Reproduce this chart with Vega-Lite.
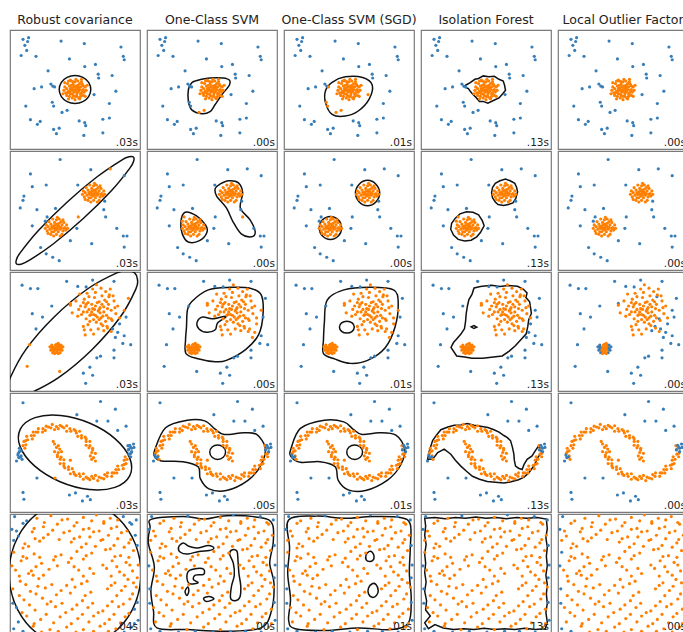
{
"$schema":"https://vega.github.io/schema/vega-lite/v6.json",
"padding":{"left":9,"top":12,"right":0,"bottom":0},
"background":"white",
"config":{"view":{"stroke":"#7a7a7a","strokeWidth":1.2},"axis":{"disable":true},"circle":{"size":10,"opacity":1},"line":{"color":"#111111","strokeWidth":1.5},"text":{"fontSize":10.5,"font":"DejaVu Sans","color":"#222222"},"title":{"fontSize":12.5,"fontWeight":"normal","font":"DejaVu Sans","color":"#222222","offset":4,"anchor":"middle"}},
"datasets":{
"p1":[{"x":-5.6,"y":5.9,"b":"12345"},{"x":-5.0,"y":6.1,"b":"12345"},{"x":-5.1,"y":5.65,"b":"12345"},{"x":-5.4,"y":5.2,"b":"12345"},{"x":-5.2,"y":4.6,"b":"12345"},{"x":-5.8,"y":4.0,"b":"12345"},{"x":-4.2,"y":3.9,"b":"12345"},{"x":-1.5,"y":5.7,"b":"12345"},{"x":1.0,"y":5.4,"b":"12345"},{"x":4.95,"y":5.0,"b":"12345"},{"x":5.2,"y":3.9,"b":"12345"},{"x":5.3,"y":3.5,"b":"12345"},{"x":-0.6,"y":3.6,"b":"12345"},{"x":1.05,"y":2.7,"b":"12345"},{"x":2.2,"y":2.95,"b":"12345"},{"x":-2.9,"y":2.2,"b":"12345"},{"x":2.5,"y":1.8,"b":"12345"},{"x":2.55,"y":1.35,"b":"12345"},{"x":4.0,"y":1.65,"b":"12345"},{"x":-2.6,"y":0.65,"b":"12345"},{"x":-2.4,"y":0.4,"b":"12345"},{"x":-2.2,"y":0.3,"b":"1245"},{"x":-4.4,"y":0.1,"b":"12345"},{"x":-3.6,"y":0.3,"b":"12345"},{"x":2.05,"y":-0.6,"b":"1245"},{"x":4.4,"y":-0.2,"b":"12345"},{"x":-5.3,"y":-1.95,"b":"12345"},{"x":-2.45,"y":-1.5,"b":"1245"},{"x":-2.3,"y":-1.95,"b":"1245"},{"x":-1.4,"y":-2.7,"b":"145"},{"x":-0.85,"y":-2.45,"b":"145"},{"x":3.7,"y":-1.65,"b":"12345"},{"x":-4.8,"y":-3.55,"b":"12345"},{"x":-4.05,"y":-4.1,"b":"12345"},{"x":-3.75,"y":-3.75,"b":"12345"},{"x":0.45,"y":-3.7,"b":"12345"},{"x":1.05,"y":-3.9,"b":"12345"},{"x":1.15,"y":-4.25,"b":"12345"},{"x":3.0,"y":-3.5,"b":"12345"},{"x":3.7,"y":-3.35,"b":"12345"},{"x":-2.3,"y":-4.7,"b":"12345"},{"x":-2.0,"y":-5.2,"b":"12345"},{"x":-1.7,"y":-4.55,"b":"12345"},{"x":0.95,"y":-5.4,"b":"12345"},{"x":3.0,"y":-5.1,"b":"12345"},
{"x":0,"y":0},{"x":0.3,"y":0.1},{"x":-0.3,"y":0.2},{"x":0.1,"y":0.4},{"x":-0.1,"y":-0.3},{"x":0.4,"y":-0.2},{"x":-0.4,"y":-0.1},{"x":0.2,"y":-0.5},{"x":-0.2,"y":0.6},{"x":0.6,"y":0.3},{"x":-0.6,"y":0.4},{"x":0.5,"y":0.7},{"x":-0.5,"y":-0.5},{"x":0.7,"y":-0.4},{"x":-0.7,"y":-0.2},{"x":0,"y":0.9},{"x":0,"y":-0.8},{"x":0.9,"y":0},{"x":-0.9,"y":0.1},{"x":0.8,"y":0.6},{"x":-0.8,"y":0.7},{"x":0.6,"y":-0.8},{"x":-0.6,"y":-0.8},{"x":0.3,"y":1},{"x":-0.3,"y":-1},{"x":1,"y":-0.3},{"x":-1,"y":-0.4},{"x":1.1,"y":0.3},{"x":-1.1,"y":0.3},{"x":0.4,"y":-1},{"x":-0.4,"y":1},{"x":0.2,"y":0.2},{"x":-0.2,"y":-0.1},{"x":0.1,"y":-0.2},{"x":0.5,"y":0},{"x":-0.5,"y":0.1},{"x":0.3,"y":0.5},{"x":-0.3,"y":-0.5},{"x":0.8,"y":-0.1},{"x":-0.1,"y":0.3},{"x":0.7,"y":0.9},{"x":-0.9,"y":-0.7},{"x":1.2,"y":-0.1},{"x":-1.2,"y":-0.1},{"x":0.1,"y":1.2},{"x":0,"y":-1.2},{"x":0.9,"y":-0.7},{"x":-0.7,"y":1},{"x":0.4,"y":0.3},{"x":-0.4,"y":0.5},{"x":0.2,"y":-0.8},{"x":-0.2,"y":0.9},{"x":0.6,"y":-0.5},{"x":-0.6,"y":-0.3},{"x":0.9,"y":0.4},{"x":-0.8,"y":-0.4},{"x":0.3,"y":-0.3},{"x":-0.2,"y":-0.7},{"x":0.5,"y":-1.1},{"x":-0.5,"y":1.1},{"x":1.3,"y":0.5},{"x":-1.3,"y":-0.5},{"x":1.1,"y":-0.8},{"x":-1.1,"y":0.8},{"x":0.7,"y":1.2},{"x":-0.7,"y":-1.1}],
"p2":[{"x":-1.6,"y":6,"b":"12345"},{"x":-4.8,"y":4.3,"b":"12345"},{"x":1.7,"y":4.8,"b":"12345"},{"x":3.8,"y":4.9,"b":"2345"},{"x":5.3,"y":4.1,"b":"12345"},{"x":-3.1,"y":3,"b":"12345"},{"x":-4.6,"y":2.8,"b":"12345"},{"x":0.3,"y":3,"b":"12345"},{"x":-5.5,"y":1.7,"b":"12345"},{"x":-5.6,"y":1.2,"b":"12345"},{"x":-5.9,"y":0.3,"b":"12345"},{"x":-4.1,"y":0.1,"b":"12345"},{"x":-2.1,"y":0.25,"b":"12345"},{"x":3.2,"y":1.1,"b":"12345"},{"x":3.1,"y":0.1,"b":"12345"},{"x":-3,"y":-0.75,"b":"135"},{"x":-3.2,"y":-1.25,"b":"135"},{"x":0.35,"y":-0.75,"b":"2345"},{"x":-4.6,"y":-1.8,"b":"12345"},{"x":0.2,"y":-2.1,"b":"12345"},{"x":5.2,"y":-3,"b":"12345"},{"x":5.6,"y":-3,"b":"12345"},{"x":-0.5,"y":-3.55,"b":"12345"},{"x":1.8,"y":-3.9,"b":"12345"},{"x":5.3,"y":-4.3,"b":"12345"},{"x":-3.1,"y":-5.1,"b":"12345"},{"x":-2.4,"y":-5.5,"b":"12345"},{"x":-3.7,"y":-4.35,"b":"12345"},{"x":-1.7,"y":-5.9,"b":"12345"},{"x":4.5,"y":-2.1,"b":"12345"},{"x":3.3,"y":-0.75,"b":"1345"},
{"x":2,"y":2},{"x":2.3,"y":2.1},{"x":1.7,"y":2.2},{"x":2.1,"y":2.4},{"x":1.9,"y":1.7},{"x":2.4,"y":1.8},{"x":1.6,"y":1.9},{"x":2.2,"y":1.5},{"x":1.8,"y":2.6},{"x":2.6,"y":2.3},{"x":1.4,"y":2.4},{"x":2.5,"y":2.7},{"x":1.5,"y":1.5},{"x":2.7,"y":1.6},{"x":1.3,"y":1.8},{"x":2,"y":2.9},{"x":2,"y":1.2},{"x":2.9,"y":2},{"x":1.1,"y":2.1},{"x":2.8,"y":2.6},{"x":1.2,"y":2.7},{"x":2.6,"y":1.2},{"x":1.4,"y":1.2},{"x":2.3,"y":3},{"x":1.7,"y":1},{"x":3,"y":1.7},{"x":1,"y":1.6},{"x":3.1,"y":2.3},{"x":0.9,"y":2.3},{"x":2.4,"y":1},{"x":1.6,"y":3},{"x":2.2,"y":2.2},{"x":1.8,"y":1.9},{"x":2.1,"y":1.8},{"x":2.5,"y":2},{"x":1.5,"y":2.1},{"x":2.3,"y":2.5},{"x":1.7,"y":1.5},{"x":2.8,"y":1.9},{"x":1.9,"y":2.3},{"x":2.7,"y":2.9},{"x":1.1,"y":1.3},{"x":3.2,"y":1.9},{"x":0.8,"y":1.9},{"x":2.1,"y":3.2},
{"x":-2,"y":-2},{"x":-1.7,"y":-1.9},{"x":-2.3,"y":-1.8},{"x":-1.9,"y":-1.6},{"x":-2.1,"y":-2.3},{"x":-1.6,"y":-2.2},{"x":-2.4,"y":-2.1},{"x":-1.8,"y":-2.5},{"x":-2.2,"y":-1.4},{"x":-1.4,"y":-1.7},{"x":-2.6,"y":-1.6},{"x":-1.5,"y":-1.3},{"x":-2.5,"y":-2.5},{"x":-1.3,"y":-2.4},{"x":-2.7,"y":-2.2},{"x":-2,"y":-1.1},{"x":-2,"y":-2.8},{"x":-1.1,"y":-2},{"x":-2.9,"y":-1.9},{"x":-1.2,"y":-1.4},{"x":-2.8,"y":-1.3},{"x":-1.4,"y":-2.8},{"x":-2.6,"y":-2.8},{"x":-1.7,"y":-1},{"x":-2.3,"y":-3},{"x":-1,"y":-2.3},{"x":-3,"y":-2.4},{"x":-0.9,"y":-1.7},{"x":-3.1,"y":-1.7},{"x":-1.6,"y":-3},{"x":-2.4,"y":-1},{"x":-1.8,"y":-1.8},{"x":-2.2,"y":-2.1},{"x":-1.9,"y":-2.2},{"x":-1.5,"y":-2},{"x":-2.5,"y":-1.9},{"x":-1.7,"y":-1.5},{"x":-2.3,"y":-2.5},{"x":-1.2,"y":-2.1},{"x":-2.1,"y":-1.7},{"x":-1.3,"y":-1.1},{"x":-2.9,"y":-2.7},{"x":-0.8,"y":-2.1},{"x":-3.2,"y":-2.1},{"x":-1.9,"y":-0.8}],
"p3":[{"x":-5.7,"y":5.45,"b":"12345"},{"x":-4.8,"y":5.05,"b":"12345"},{"x":-4,"y":5.05,"b":"12345"},{"x":-0.9,"y":5.9,"b":"12345"},{"x":0.3,"y":5.3,"b":"12345"},{"x":1.2,"y":5.25,"b":"12345"},{"x":1.9,"y":6.05,"b":"12345"},{"x":4.2,"y":5.9,"b":"12345"},{"x":-2.5,"y":3,"b":"12345"},{"x":-4.6,"y":2.1,"b":"12345"},{"x":-3.5,"y":1.7,"b":"12345"},{"x":-4.2,"y":0.3,"b":"12345"},{"x":-4.9,"y":-1.55,"b":"2345"},{"x":4.05,"y":0.3,"b":"15"},{"x":4.35,"y":-0.7,"b":"145"},{"x":5.3,"y":-0.5,"b":"12345"},{"x":5.15,"y":-1.4,"b":"12345"},{"x":6,"y":-1.55,"b":"12345"},{"x":5.3,"y":2.5,"b":"45"},{"x":5.5,"y":1.7,"b":"12345"},{"x":3.9,"y":1.5,"b":"5"},{"x":3.45,"y":0.6,"b":"5"},{"x":2.35,"y":-3.1,"b":"12345"},{"x":1.6,"y":-4.2,"b":"12345"},{"x":0.9,"y":-4.9,"b":"12345"},{"x":1.9,"y":-5.15,"b":"12345"},{"x":1.15,"y":-6.1,"b":"12345"},{"x":4.2,"y":-2.2,"b":"12345"},{"x":2.75,"y":-2.9,"b":"12345"},{"x":4.2,"y":-3.1,"b":"12345"},{"x":5.75,"y":3.9,"b":"2345"},{"x":3.65,"y":4.1,"b":"5"},{"x":-0.5,"y":3.3,"b":"5"},{"x":-5.15,"y":-4.1,"b":"2345"},{"x":-1.65,"y":-4.7,"b":"2345"},{"x":3.1,"y":0.1,"b":"5"},{"x":4.8,"y":0.9,"b":"145"},{"x":4.6,"y":-0.1,"b":"145"},
{"x":-2,"y":-2},{"x":-1.8,"y":-1.9},{"x":-2.2,"y":-1.9},{"x":-1.9,"y":-1.8},{"x":-2.1,"y":-2.2},{"x":-1.8,"y":-2.1},{"x":-2.2,"y":-2.1},{"x":-1.9,"y":-2.3},{"x":-2.1,"y":-1.6},{"x":-1.6,"y":-1.8},{"x":-2.4,"y":-1.8},{"x":-1.7,"y":-1.6},{"x":-2.3,"y":-2.3},{"x":-1.6,"y":-2.2},{"x":-2.4,"y":-2.1},{"x":-2,"y":-1.5},{"x":-2,"y":-2.5},{"x":-1.5,"y":-2,"b":"5"},{"x":-2.5,"y":-1.9,"b":"5"},{"x":-1.5,"y":-1.6,"b":"5"},{"x":-2.5,"y":-1.6,"b":"5"},{"x":-1.6,"y":-2.5,"b":"5"},{"x":-2.4,"y":-2.5,"b":"5"},{"x":-1.8,"y":-1.4},{"x":-2.2,"y":-2.6},{"x":-1.4,"y":-2.2,"b":"5"},{"x":-2.6,"y":-2.2,"b":"5"},{"x":-1.3,"y":-1.8,"b":"5"},{"x":-2.7,"y":-1.8,"b":"5"},{"x":-1.8,"y":-2.6},
{"x":2,"y":2},{"x":2.5,"y":2.4},{"x":1.5,"y":2.6},{"x":2.8,"y":1.6},{"x":1.2,"y":1.5},{"x":3.1,"y":2.9},{"x":1.8,"y":3.2},{"x":2.3,"y":1.1},{"x":0.9,"y":2.3},{"x":3.4,"y":1.9},{"x":2.6,"y":3.5},{"x":1.4,"y":0.8},{"x":3.6,"y":3.2},{"x":0.6,"y":3},{"x":2.1,"y":4},{"x":3,"y":0.7},{"x":1,"y":3.8},{"x":3.9,"y":2.5},{"x":1.7,"y":0.2},{"x":2.9,"y":4.2},{"x":0.3,"y":1.8},{"x":4.2,"y":3.6},{"x":1.9,"y":2.7},{"x":2.4,"y":1.7},{"x":1.1,"y":2.9},{"x":3.3,"y":1.2},{"x":2.7,"y":2.2},{"x":1.6,"y":1.9},{"x":2.2,"y":3},{"x":3.7,"y":4.3},{"x":0.4,"y":2.6},{"x":4,"y":1.3},{"x":1.3,"y":4.5},{"x":2.5,"y":0.3},{"x":3.2,"y":3.7},{"x":0.9,"y":0.6},{"x":4.4,"y":2.1},{"x":1.9,"y":5},{"x":2.8,"y":5.1},{"x":-0.3,"y":2.2},{"x":3.5,"y":0.4},{"x":1,"y":0.2},{"x":4.6,"y":3},{"x":2.2,"y":4.6},{"x":0.1,"y":3.6},{"x":3.8,"y":5},{"x":2,"y":1.4},{"x":2.7,"y":2.8},{"x":1.4,"y":3.4},{"x":3.1,"y":2.3},{"x":1.8,"y":2.3},{"x":2.4,"y":3.4},{"x":1.6,"y":1.2},{"x":3,"y":1.8},{"x":2.1,"y":2.6},{"x":0.7,"y":2},{"x":3.5,"y":2.7},{"x":2.6,"y":1.4},{"x":1.2,"y":3.2},{"x":2.9,"y":3.2},{"x":4.1,"y":4.2},{"x":1.5,"y":4.1},{"x":4.8,"y":1.6},{"x":2.3,"y":5.5},{"x":3.3,"y":4.7},{"x":-0.5,"y":3.1},{"x":1.1,"y":-0.4},{"x":3.9,"y":0},{"x":0.5,"y":4.4},{"x":4.3,"y":2.8},{"x":2,"y":-0.3},{"x":1.7,"y":2},{"x":2.6,"y":2.6},{"x":2.2,"y":1.9},{"x":1.3,"y":2.3},{"x":3.4,"y":3.5},{"x":2.8,"y":0.9},{"x":0.9,"y":3.4},{"x":3.6,"y":1.6}],
"p4":[{"x":2.2,"y":-1},{"x":1.8,"y":-0.8},{"x":2,"y":-0.6},{"x":1.65,"y":-0.4},{"x":2.2,"y":-0.1},{"x":1.8,"y":0},{"x":1.9,"y":0.3},{"x":1.9,"y":0.5},{"x":1.5,"y":0.55},{"x":1.6,"y":0.8},{"x":1.2,"y":0.85},{"x":1.6,"y":1.3},{"x":1.2,"y":1.3},{"x":1.2,"y":1.6},{"x":1.1,"y":1.8},{"x":0.7,"y":1.7},{"x":0.7,"y":2},{"x":0.3,"y":1.9},{"x":0.5,"y":2.5},{"x":0.15,"y":2.3},{"x":0.05,"y":2.55},{"x":-0.1,"y":2.7},{"x":-0.45,"y":2.5},{"x":-0.55,"y":2.8},{"x":-0.9,"y":2.5},{"x":-0.9,"y":3.15},{"x":-1.2,"y":2.9},{"x":-1.4,"y":3.05},{"x":-1.6,"y":3.2},{"x":-1.8,"y":2.8},{"x":-2,"y":3.05},{"x":-2.2,"y":2.7},{"x":-2.45,"y":3.3},{"x":-2.6,"y":2.9},{"x":-2.85,"y":3},{"x":-3.1,"y":3.1},{"x":-3.2,"y":2.6},{"x":-3.45,"y":2.8},{"x":-3.5,"y":2.4},{"x":-3.95,"y":2.8},{"x":-4,"y":2.4},{"x":-4.2,"y":2.4},{"x":-4.5,"y":2.4},{"x":-4.4,"y":2},{"x":-4.7,"y":2},{"x":-4.6,"y":1.6},{"x":-5.2,"y":1.9},{"x":-5.1,"y":1.5},{"x":-5.3,"y":1.4},{"x":-5.5,"y":1.3},{"x":-5.3,"y":0.9},{"x":-5.6,"y":0.8},{"x":-5.4,"y":0.5},{"x":-6,"y":0.5,"b":"1"},{"x":-5.8,"y":0.2,"b":"1"},{"x":-6,"y":0.1,"b":"1"},{"x":-6.1,"y":-0.1,"b":"1"},{"x":-5.8,"y":-0.4,"b":"1"},{"x":-6,"y":-0.6,"b":"1"},{"x":-5.7,"y":-0.8,"b":"1"},{"x":-6.3,"y":-1,"b":"12345"},
{"x":-2.2,"y":1},{"x":-1.8,"y":0.8},{"x":-2,"y":0.6},{"x":-1.65,"y":0.4},{"x":-2.2,"y":0.1},{"x":-1.8,"y":0},{"x":-1.9,"y":-0.3},{"x":-1.9,"y":-0.5},{"x":-1.5,"y":-0.55},{"x":-1.6,"y":-0.8},{"x":-1.2,"y":-0.85},{"x":-1.6,"y":-1.3},{"x":-1.2,"y":-1.3},{"x":-1.2,"y":-1.6},{"x":-1.1,"y":-1.8},{"x":-0.7,"y":-1.7},{"x":-0.7,"y":-2},{"x":-0.3,"y":-1.9},{"x":-0.5,"y":-2.5},{"x":-0.15,"y":-2.3},{"x":-0.05,"y":-2.55},{"x":0.1,"y":-2.7},{"x":0.45,"y":-2.5},{"x":0.55,"y":-2.8},{"x":0.9,"y":-2.5},{"x":0.9,"y":-3.15},{"x":1.2,"y":-2.9},{"x":1.4,"y":-3.05},{"x":1.6,"y":-3.2},{"x":1.8,"y":-2.8},{"x":2,"y":-3.05},{"x":2.2,"y":-2.7},{"x":2.45,"y":-3.3},{"x":2.6,"y":-2.9},{"x":2.85,"y":-3},{"x":3.1,"y":-3.1},{"x":3.2,"y":-2.6},{"x":3.45,"y":-2.8},{"x":3.5,"y":-2.4},{"x":3.95,"y":-2.8},{"x":4,"y":-2.4},{"x":4.2,"y":-2.4},{"x":4.5,"y":-2.4},{"x":4.4,"y":-2},{"x":4.7,"y":-2},{"x":4.6,"y":-1.6},{"x":5.2,"y":-1.9},{"x":5.1,"y":-1.5},{"x":5.3,"y":-1.4},{"x":5.5,"y":-1.3},{"x":5.3,"y":-0.9},{"x":5.6,"y":-0.8},{"x":5.4,"y":-0.5},{"x":6,"y":-0.5,"b":"1"},{"x":5.8,"y":-0.2,"b":"1"},{"x":6,"y":-0.1,"b":"1"},{"x":6.1,"y":0.1,"b":"12345"},{"x":5.8,"y":0.4,"b":"1"},{"x":6,"y":0.6,"b":"12345"},{"x":5.7,"y":0.8,"b":"1"},{"x":6.3,"y":1,"b":"12345"},
{"x":-5.6,"y":5.85,"b":"12345"},{"x":2.75,"y":6,"b":"12345"},{"x":4.35,"y":5.1,"b":"12345"},{"x":0.2,"y":4.45,"b":"12345"},{"x":2.35,"y":3.7,"b":"12345"},{"x":3.55,"y":3.7,"b":"12345"},{"x":4.6,"y":2.6,"b":"12345"},{"x":5.5,"y":3.1,"b":"12345"},{"x":5.9,"y":0.85,"b":"12345"},{"x":6.1,"y":0.5,"b":"12345"},{"x":5.75,"y":0.3,"b":"12345"},{"x":6.35,"y":0.6,"b":"12345"},{"x":-6.15,"y":-0.3,"b":"12345"},{"x":-5.85,"y":-0.5,"b":"12345"},{"x":-6.05,"y":-0.6,"b":"12345"},{"x":-2.15,"y":-3,"b":"2345"},{"x":-0.6,"y":-5,"b":"12345"},{"x":0.05,"y":-4.75,"b":"12345"},{"x":1.35,"y":-5.15,"b":"12345"},{"x":1.65,"y":-5.55,"b":"12345"},{"x":0.8,"y":-5.7,"b":"12345"},{"x":-5.6,"y":-4.7,"b":"12345"},{"x":-5.5,"y":-5.5,"b":"12345"},{"x":-4.1,"y":-3,"b":"12345"},{"x":-2.35,"y":1.3},{"x":-1.45,"y":0.1},{"x":-0.5,"y":-0.9}],
"p5":[{"x":-6.5,"y":6.7,"b":"12345"},{"x":-4.1,"y":6.5},{"x":-2.6,"y":6.8,"b":"234"},{"x":-0.8,"y":6.4},{"x":0.9,"y":6.6},{"x":2.3,"y":6.9,"b":"234"},{"x":3.8,"y":6.5},{"x":5.2,"y":6.7,"b":"1234"},{"x":6.6,"y":6.3,"b":"1234"},{"x":-5.6,"y":5.9,"b":"1"},{"x":-3.4,"y":5.5},{"x":-1.9,"y":5.8},{"x":-0.1,"y":5.6},{"x":1.5,"y":5.3},{"x":3.1,"y":5.9},{"x":4.5,"y":5.5},{"x":6.1,"y":5.8,"b":"1"},{"x":-6.8,"y":5.2,"b":"12345"},{"x":-6.1,"y":4.4,"b":"1"},{"x":-4.6,"y":4.9},{"x":-2.9,"y":4.6},{"x":-1.2,"y":4.8},{"x":0.5,"y":4.3},{"x":2,"y":4.9},{"x":3.6,"y":4.5},{"x":5,"y":4.8},{"x":6.5,"y":4.5,"b":"1"},{"x":-5.4,"y":3.5},{"x":-5,"y":3.2},{"x":-5.6,"y":3},{"x":-3.8,"y":3.8},{"x":-0.4,"y":3.7},{"x":1.2,"y":3.5},{"x":2.8,"y":3.9},{"x":4.2,"y":3.3},{"x":5.8,"y":3.6},{"x":-6.6,"y":2.5,"b":"5"},{"x":-4.4,"y":2.3},{"x":-1.5,"y":2.2},{"x":0.2,"y":2.6},{"x":1.8,"y":2.4},{"x":3.3,"y":2.8},{"x":4.9,"y":2.1},{"x":6.3,"y":2.7},{"x":-5.8,"y":1.5},{"x":-3.6,"y":1.2},{"x":-2.3,"y":1.6},{"x":-0.7,"y":1.3},{"x":0.9,"y":1.7},{"x":4,"y":1.5},{"x":5.5,"y":1.3},{"x":6.8,"y":1,"b":"2345"},{"x":-6.4,"y":0.4},{"x":-5,"y":0},{"x":-4.7,"y":0.3},{"x":-4.5,"y":-0.2},{"x":-2.8,"y":0.5},{"x":0.4,"y":0.4},{"x":2,"y":0},{"x":3.4,"y":0.6},{"x":4.8,"y":0.2},{"x":6.2,"y":0.3},{"x":-5.9,"y":-0.9},{"x":-3.9,"y":-0.6},{"x":-0.3,"y":-0.7},{"x":1.3,"y":-0.9},{"x":4.3,"y":-1.1},{"x":5.7,"y":-0.7},{"x":-6.7,"y":-1.8,"b":"2345"},{"x":-4.8,"y":-2.1},{"x":-3.2,"y":-1.7},{"x":-1.5,"y":-2},{"x":0,"y":-1.6},{"x":1.7,"y":-2.2},{"x":3.5,"y":-1.8},{"x":5,"y":-2},{"x":6.6,"y":-1.6},{"x":-5.5,"y":-3.1},{"x":-3.5,"y":-2.9},{"x":-2.6,"y":-3.3},{"x":0.8,"y":-3.2},{"x":4,"y":-3.3},{"x":5.9,"y":-3},{"x":-6.3,"y":-4,"b":"1"},{"x":-4.3,"y":-4.3},{"x":-2.1,"y":-3.9},{"x":-0.3,"y":-4.2},{"x":1.4,"y":-4},{"x":3,"y":-4.4},{"x":4.7,"y":-3.9},{"x":6.4,"y":-4.2,"b":"1"},{"x":-5.2,"y":-5},{"x":-3.7,"y":-5.4},{"x":-1.6,"y":-5.1},{"x":0.3,"y":-5.3},{"x":2,"y":-5},{"x":3.7,"y":-5.4},{"x":5.4,"y":-5.1},{"x":6.8,"y":-5.5,"b":"12345"},{"x":-6.6,"y":-6.5,"b":"12345"},{"x":-4.5,"y":-6.2},{"x":-2.7,"y":-6.6},{"x":-0.9,"y":-6.3},{"x":0.9,"y":-6.6},{"x":2.7,"y":-6.2},{"x":4.4,"y":-6.5},{"x":6.1,"y":-6.3,"b":"1"},
{"x":-5.2,"y":6.2,"b":"1"},{"x":-3.3,"y":6},{"x":-1.4,"y":6.3},{"x":0.2,"y":6},{"x":1.8,"y":6.2},{"x":3.1,"y":6.1},{"x":4.6,"y":6.3},{"x":5.9,"y":6,"b":"1"},{"x":-6.3,"y":5,"b":"1"},{"x":-4.4,"y":5.3},{"x":-2.4,"y":5.1},{"x":-0.6,"y":5},{"x":0.9,"y":5.2},{"x":2.6,"y":5},{"x":3.9,"y":5.3},{"x":5.6,"y":5},{"x":-6.6,"y":3.9,"b":"1"},{"x":-4.3,"y":4.1},{"x":-3.4,"y":4.2},{"x":-1.7,"y":4},{"x":-0.1,"y":4.1},{"x":1.6,"y":4.3},{"x":3,"y":4},{"x":4.6,"y":4.1},{"x":6,"y":4},{"x":0.7,"y":3.1},{"x":2.2,"y":3.2},{"x":3.8,"y":2.9},{"x":5.3,"y":3.1},{"x":6.7,"y":3.3,"b":"12345"},{"x":-5.6,"y":2},{"x":-5.2,"y":1.8},{"x":-3.8,"y":1.9},{"x":-2.1,"y":2},{"x":-0.4,"y":1.8},{"x":1.2,"y":2.1},{"x":4.3,"y":2},{"x":5.8,"y":1.9},{"x":-6.8,"y":0.9,"b":"2345"},{"x":-4.2,"y":0.8},{"x":-1.9,"y":0.9},{"x":-0.1,"y":0.8},{"x":1.6,"y":0.6},{"x":3,"y":1},{"x":4.5,"y":0.8},{"x":5.9,"y":1},{"x":-6,"y":-0.3},{"x":-3.4,"y":-0.2},{"x":0.9,"y":-0.3},{"x":3.9,"y":-0.3},{"x":5.3,"y":-0.2},{"x":6.7,"y":-0.5,"b":"234"},{"x":-5.3,"y":-1.3},{"x":-4,"y":-1.5},{"x":-2.5,"y":-1.3},{"x":-0.9,"y":-1.4},{"x":0.7,"y":-1.2},{"x":3.9,"y":-1.4},{"x":5.4,"y":-1.5},{"x":6.3,"y":-1.1},{"x":-6,"y":-2.6},{"x":-4.2,"y":-2.4},{"x":-2,"y":-2.5},{"x":-0.5,"y":-2.3},{"x":1.1,"y":-2.6},{"x":4.5,"y":-2.6},{"x":6.2,"y":-2.4},{"x":-6.7,"y":-3.5,"b":"12345"},{"x":-4.9,"y":-3.7},{"x":-3,"y":-3.6},{"x":-1.4,"y":-3.5},{"x":0.2,"y":-3.7},{"x":1.9,"y":-3.5},{"x":3.5,"y":-3.8},{"x":5.2,"y":-3.6},{"x":6.7,"y":-3.4,"b":"1234"},{"x":-5.7,"y":-4.6},{"x":-3.1,"y":-4.8},{"x":-1,"y":-4.6},{"x":0.8,"y":-4.8},{"x":2.5,"y":-4.6},{"x":4.2,"y":-4.8},{"x":5.8,"y":-4.7},{"x":-6.1,"y":-5.7,"b":"1"},{"x":-4.4,"y":-5.9},{"x":-2.3,"y":-5.8},{"x":-0.4,"y":-5.9},{"x":1.5,"y":-5.7},{"x":3.2,"y":-5.9},{"x":4.9,"y":-5.8},{"x":6.4,"y":-5.9,"b":"1"},{"x":-5.6,"y":-6.8,"b":"12345"},{"x":-3.6,"y":-6.9,"b":"234"},{"x":-1.8,"y":-6.8,"b":"234"},{"x":0.1,"y":-6.9,"b":"234"},{"x":2,"y":-6.8,"b":"234"},{"x":3.6,"y":-6.8,"b":"234"},{"x":5.3,"y":-6.9,"b":"1234"}],
"k11":[{"x":1.7,"y":0},{"x":1.47,"y":0.83},{"x":0.85,"y":1.43},{"x":0,"y":1.65},{"x":-0.85,"y":1.43},{"x":-1.47,"y":0.83},{"x":-1.7,"y":0},{"x":-1.47,"y":-0.83},{"x":-0.85,"y":-1.43},{"x":0,"y":-1.65},{"x":0.85,"y":-1.43},{"x":1.47,"y":-0.83}],
"k12":[{"x":-2.18,"y":0.8},{"x":-1.64,"y":1.05},{"x":-0.21,"y":1.35},{"x":1.64,"y":1.25},{"x":1.9,"y":0.6},{"x":1.07,"y":-0.6},{"x":0.32,"y":-1.8},{"x":-0.21,"y":-2.6},{"x":-1.1,"y":-2.85},{"x":-2.18,"y":-2.4},{"x":-2.54,"y":-1.4},{"x":-2.54,"y":0.0}],
"k13":[{"x":-1.82,"y":0.85},{"x":-0.41,"y":1.49},{"x":1.47,"y":1.41},{"x":2.5,"y":0.53},{"x":2.17,"y":-1.14},{"x":1.0,"y":-2.53},{"x":-0.41,"y":-3.13},{"x":-1.82,"y":-2.93},{"x":-2.53,"y":-1.54},{"x":-2.53,"y":-0.14}],
"k14":[{"x":-2.2,"y":0.5},{"x":-1.7,"y":0.8},{"x":-1.2,"y":1.2},{"x":-0.8,"y":1.3},{"x":-0.3,"y":1.6},{"x":0.3,"y":1.5},{"x":0.9,"y":1.55},{"x":1.4,"y":1.2},{"x":1.85,"y":1.0},{"x":2.0,"y":0.5},{"x":2.1,"y":-0.1},{"x":1.8,"y":-0.5},{"x":1.4,"y":-1.0},{"x":0.8,"y":-1.3},{"x":0.2,"y":-1.6},{"x":-0.3,"y":-1.4},{"x":-0.7,"y":-1.4},{"x":-1.1,"y":-0.9},{"x":-1.4,"y":-0.6},{"x":-1.7,"y":-0.2},{"x":-1.9,"y":0.1},{"x":-2.3,"y":0.3}],
"k21":[{"x":6.29,"y":6.29},{"x":5.84,"y":6.32},{"x":4.99,"y":5.91},{"x":2.35,"y":3.94},{"x":-0.92,"y":0.92},{"x":-3.94,"y":-2.35},{"x":-5.91,"y":-4.99},{"x":-6.32,"y":-5.84},{"x":-6.29,"y":-6.29},{"x":-5.84,"y":-6.32},{"x":-4.99,"y":-5.91},{"x":-2.35,"y":-3.94},{"x":0.92,"y":-0.92},{"x":3.94,"y":2.35},{"x":5.91,"y":4.99},{"x":6.32,"y":5.84}],
"k22":[{"x":-2.9,"y":-0.2,"g":1},{"x":-1.7,"y":-0.6,"g":1},{"x":-0.7,"y":-1.7,"g":1},{"x":-0.55,"y":-2.6,"g":1},{"x":-1.35,"y":-3.55,"g":1},{"x":-2.55,"y":-3.7,"g":1},{"x":-3.2,"y":-2.75,"g":1},{"x":-3.35,"y":-1.3,"g":1},{"x":0.85,"y":3.1,"g":2},{"x":1.8,"y":3.5,"g":2},{"x":2.85,"y":3.25,"g":2},{"x":3.3,"y":2.1,"g":2},{"x":3.05,"y":0.3,"g":2},{"x":4.1,"y":-1.1,"g":2},{"x":4.65,"y":-2.5,"g":2},{"x":4.25,"y":-3.1,"g":2},{"x":3.15,"y":-2.75,"g":2},{"x":2.25,"y":-1.3,"g":2},{"x":1.55,"y":0.3,"g":2},{"x":0.5,"y":1.7,"g":2},{"x":0.35,"y":2.6,"g":2}],
"k23":[{"x":3.3,"y":2.05,"g":1},{"x":2.9,"y":3.1,"g":1},{"x":2,"y":3.55,"g":1},{"x":1.1,"y":3.1,"g":1},{"x":0.7,"y":2.05,"g":1},{"x":1.1,"y":1.0,"g":1},{"x":2,"y":0.55,"g":1},{"x":2.9,"y":1.0,"g":1},{"x":-0.8,"y":-2.05,"g":2},{"x":-1.15,"y":-1.1,"g":2},{"x":-2,"y":-0.7,"g":2},{"x":-2.85,"y":-1.1,"g":2},{"x":-3.2,"y":-2.05,"g":2},{"x":-2.85,"y":-3.0,"g":2},{"x":-2,"y":-3.4,"g":2},{"x":-1.15,"y":-3.0,"g":2}],
"k24":[{"x":3.4,"y":2.2,"g":1},{"x":3.3,"y":2.7,"g":1},{"x":3.1,"y":3.2,"g":1},{"x":2.6,"y":3.5,"g":1},{"x":2.1,"y":3.7,"g":1},{"x":1.5,"y":3.5,"g":1},{"x":1.0,"y":3.2,"g":1},{"x":0.7,"y":2.7,"g":1},{"x":0.6,"y":2.1,"g":1},{"x":0.7,"y":1.5,"g":1},{"x":1.0,"y":1.0,"g":1},{"x":1.3,"y":0.7,"g":1},{"x":1.9,"y":0.6,"g":1},{"x":2.4,"y":0.7,"g":1},{"x":2.9,"y":0.9,"g":1},{"x":3.2,"y":1.4,"g":1},{"x":3.3,"y":1.8,"g":1},{"x":-0.2,"y":-1.8,"g":2},{"x":-0.4,"y":-1.2,"g":2},{"x":-0.8,"y":-0.5,"g":2},{"x":-1.4,"y":-0.2,"g":2},{"x":-2.1,"y":-0.15,"g":2},{"x":-2.8,"y":-0.4,"g":2},{"x":-3.3,"y":-0.9,"g":2},{"x":-3.7,"y":-1.5,"g":2},{"x":-3.8,"y":-2.2,"g":2},{"x":-3.5,"y":-2.9,"g":2},{"x":-3.0,"y":-3.4,"g":2},{"x":-2.3,"y":-3.6,"g":2},{"x":-1.6,"y":-3.5,"g":2},{"x":-1.0,"y":-3.1,"g":2},{"x":-0.6,"y":-2.6,"g":2},{"x":-0.4,"y":-2.2,"g":2}],
"k31":[{"x":6.42,"y":6.89},{"x":5.66,"y":7.14},{"x":4.51,"y":6.89},{"x":1.34,"y":5.0},{"x":-2.25,"y":1.71},{"x":-5.28,"y":-2.1},{"x":-6.95,"y":-5.39},{"x":-7.12,"y":-6.56},{"x":-6.82,"y":-7.29},{"x":-6.06,"y":-7.54},{"x":-4.91,"y":-7.29},{"x":-1.74,"y":-5.4},{"x":1.85,"y":-2.11},{"x":4.88,"y":1.7},{"x":6.55,"y":4.99},{"x":6.72,"y":6.16}],
"k32":[{"x":-2.2,"y":3.5,"g":1},{"x":-0.4,"y":4.9,"g":1},{"x":2,"y":5.2,"g":1},{"x":4.1,"y":5.1,"g":1},{"x":5.3,"y":4.3,"g":1},{"x":5.5,"y":2.1,"g":1},{"x":5.05,"y":-0.3,"g":1},{"x":3.65,"y":-2.1,"g":1},{"x":1.55,"y":-3.4,"g":1},{"x":0.35,"y":-3.55,"g":1},{"x":-1.5,"y":-3.2,"g":1},{"x":-2.8,"y":-2.6,"g":1},{"x":-2.85,"y":-1.0,"g":1},{"x":-2.75,"y":0.5,"g":1},{"x":-2.65,"y":2.5,"g":1},{"x":-1.6,"y":1.1,"g":2},{"x":-1.0,"y":1.7,"g":2},{"x":0.05,"y":1.5,"g":2},{"x":1.55,"y":1.8,"g":2},{"x":0.6,"y":1.0,"g":2},{"x":0.35,"y":0.2,"g":2},{"x":-0.55,"y":-0.1,"g":2},{"x":-1.4,"y":0.3,"g":2}],
"k33":[{"x":-2.35,"y":3.7,"g":1},{"x":-0.55,"y":4.9,"g":1},{"x":2.25,"y":5.2,"g":1},{"x":4.8,"y":4.9,"g":1},{"x":5.3,"y":3.3,"g":1},{"x":4.95,"y":0.5,"g":1},{"x":3.9,"y":-1.9,"g":1},{"x":2,"y":-3.4,"g":1},{"x":0.15,"y":-3.75,"g":1},{"x":-1.5,"y":-3.25,"g":1},{"x":-2.75,"y":-2.6,"g":1},{"x":-2.75,"y":-1.0,"g":1},{"x":-2.65,"y":1.1,"g":1},{"x":0.57,"y":0.52,"g":2},{"x":0.34,"y":1.02,"g":2},{"x":-0.23,"y":1.22,"g":2},{"x":-0.8,"y":1.02,"g":2},{"x":-1.03,"y":0.52,"g":2},{"x":-0.8,"y":0.02,"g":2},{"x":-0.23,"y":-0.18,"g":2},{"x":0.34,"y":0.02,"g":2}],
"k34":[{"x":-1.29,"y":5.12,"g":1},{"x":-0.6,"y":5.3,"g":1},{"x":0.58,"y":5.44,"g":1},{"x":1.5,"y":5.3,"g":1},{"x":2.4,"y":5.4,"g":1},{"x":3.39,"y":5.32,"g":1},{"x":4.0,"y":5.0,"g":1},{"x":4.42,"y":4.52,"g":1},{"x":4.3,"y":4.0,"g":1},{"x":4.7,"y":3.5,"g":1},{"x":4.89,"y":2.12,"g":1},{"x":4.6,"y":1.4,"g":1},{"x":4.5,"y":0.6,"g":1},{"x":4.33,"y":-0.28,"g":1},{"x":3.8,"y":-0.9,"g":1},{"x":3.16,"y":-1.68,"g":1},{"x":2.5,"y":-2.3,"g":1},{"x":1.75,"y":-2.88,"g":1},{"x":0.8,"y":-3.0,"g":1},{"x":-0.35,"y":-3.16,"g":1},{"x":-1.52,"y":-3.16,"g":1},{"x":-2.3,"y":-3.0,"g":1},{"x":-3.16,"y":-2.88,"g":1},{"x":-3.77,"y":-1.88,"g":1},{"x":-3.5,"y":-1.3,"g":1},{"x":-3.16,"y":-0.88,"g":1},{"x":-2.7,"y":-0.3,"g":1},{"x":-2.32,"y":0.32,"g":1},{"x":-2.2,"y":1.2,"g":1},{"x":-2.13,"y":2.12,"g":1},{"x":-2.0,"y":3.0,"g":1},{"x":-1.85,"y":3.72,"g":1},{"x":-1.5,"y":4.4,"g":1},{"x":-1.0,"y":0.5,"g":2},{"x":-1.3,"y":0.7,"g":2},{"x":-1.6,"y":0.55,"g":2},{"x":-1.3,"y":0.35,"g":2}],
"k41":[{"x":5.89,"y":-2.75},{"x":5.9,"y":-0.66},{"x":4.33,"y":1.61},{"x":1.61,"y":3.44},{"x":-1.55,"y":4.35},{"x":-4.3,"y":4.1},{"x":-5.89,"y":2.75},{"x":-5.9,"y":0.66},{"x":-4.33,"y":-1.61},{"x":-1.61,"y":-3.44},{"x":1.55,"y":-4.35},{"x":4.3,"y":-4.1}],
"k42":[{"x":-6.16,"y":0.32,"g":1},{"x":-5.0,"y":2.92,"g":1},{"x":-2.66,"y":3.8,"g":1},{"x":-0.79,"y":3.72,"g":1},{"x":0.37,"y":2.72,"g":1},{"x":1.31,"y":2.12,"g":1},{"x":3.41,"y":2.32,"g":1},{"x":4.81,"y":2.12,"g":1},{"x":5.74,"y":0.52,"g":1},{"x":5.27,"y":-1.48,"g":1},{"x":3.87,"y":-3.28,"g":1},{"x":1.54,"y":-4.48,"g":1},{"x":-0.33,"y":-4.28,"g":1},{"x":-1.26,"y":-3.08,"g":1},{"x":-1.49,"y":-1.68,"g":1},{"x":-3.13,"y":-1.08,"g":1},{"x":-5.46,"y":-1.0,"g":1},{"x":-6.16,"y":-0.48,"g":1},{"x":1.46,"y":0.04,"g":2},{"x":1.21,"y":0.64,"g":2},{"x":0.61,"y":0.89,"g":2},{"x":0.01,"y":0.64,"g":2},{"x":-0.24,"y":0.04,"g":2},{"x":0.01,"y":-0.56,"g":2},{"x":0.61,"y":-0.81,"g":2},{"x":1.21,"y":-0.56,"g":2}],
"k43":[{"x":-6.25,"y":0.44,"g":1},{"x":-5.23,"y":2.84,"g":1},{"x":-2.66,"y":3.8,"g":1},{"x":-0.56,"y":3.6,"g":1},{"x":0.47,"y":2.72,"g":1},{"x":1.41,"y":2.12,"g":1},{"x":3.27,"y":2.32,"g":1},{"x":5.05,"y":2.04,"g":1},{"x":5.98,"y":0.44,"g":1},{"x":5.52,"y":-1.56,"g":1},{"x":4.11,"y":-3.28,"g":1},{"x":1.78,"y":-4.48,"g":1},{"x":-0.09,"y":-4.4,"g":1},{"x":-1.16,"y":-3.28,"g":1},{"x":-1.49,"y":-1.68,"g":1},{"x":-3.12,"y":-1.08,"g":1},{"x":-5.23,"y":-1.16,"g":1},{"x":-6.25,"y":-0.48,"g":1},{"x":1.46,"y":0.04,"g":2},{"x":1.21,"y":0.64,"g":2},{"x":0.61,"y":0.89,"g":2},{"x":0.01,"y":0.64,"g":2},{"x":-0.24,"y":0.04,"g":2},{"x":0.01,"y":-0.56,"g":2},{"x":0.61,"y":-0.81,"g":2},{"x":1.21,"y":-0.56,"g":2}],
"k44":[{"x":-6.29,"y":-0.8},{"x":-6.1,"y":0.2},{"x":-5.75,"y":1.4},{"x":-5.3,"y":2.1},{"x":-4.86,"y":2.68},{"x":-4.1,"y":3.0},{"x":-3.43,"y":3.2},{"x":-2.7,"y":3.25},{"x":-2.0,"y":3.4},{"x":-1.3,"y":3.2},{"x":-0.57,"y":3.08},{"x":0.2,"y":2.95},{"x":0.86,"y":2.68},{"x":1.4,"y":2.4},{"x":1.93,"y":2.0},{"x":2.3,"y":1.75},{"x":2.64,"y":1.4},{"x":2.85,"y":0.6},{"x":3.0,"y":-0.2},{"x":3.05,"y":-0.9},{"x":3.18,"y":-1.6},{"x":3.5,"y":-1.85},{"x":3.89,"y":-2.0},{"x":4.1,"y":-1.4},{"x":4.43,"y":-0.8},{"x":4.96,"y":-0.4},{"x":5.3,"y":0.2},{"x":5.68,"y":0.8},{"x":6.0,"y":0.0},{"x":5.57,"y":-0.6},{"x":5.2,"y":-1.5},{"x":4.6,"y":-2.4},{"x":4.1,"y":-2.9},{"x":3.5,"y":-3.2},{"x":2.7,"y":-3.45},{"x":1.93,"y":-3.6},{"x":1.0,"y":-3.5},{"x":0.14,"y":-3.4},{"x":-0.7,"y":-3.15},{"x":-1.46,"y":-2.8},{"x":-2.1,"y":-2.2},{"x":-2.71,"y":-1.6},{"x":-3.3,"y":-0.9},{"x":-3.79,"y":-0.2},{"x":-4.5,"y":0.4},{"x":-5.2,"y":0.0},{"x":-5.75,"y":-0.8}],
"k51":[{"x":7.1,"y":0},{"x":6.15,"y":4.3},{"x":3.55,"y":7.45},{"x":0,"y":8.6},{"x":-3.55,"y":7.45},{"x":-6.15,"y":4.3},{"x":-7.1,"y":0},{"x":-6.15,"y":-4.3},{"x":-3.55,"y":-7.45},{"x":0,"y":-8.6},{"x":3.55,"y":-7.45},{"x":6.15,"y":-4.3}],
"k52":[{"x":-6.49,"y":6.4,"g":1},{"x":-3.12,"y":6.72,"g":1},{"x":-0.79,"y":6.4,"g":1},{"x":1.55,"y":6.8,"g":1},{"x":5.28,"y":6.56,"g":1},{"x":6.5,"y":5.8,"g":1},{"x":6.59,"y":3.6,"g":1},{"x":6.22,"y":1.2,"g":1},{"x":6.68,"y":-1.2,"g":1},{"x":6.4,"y":-4.4,"g":1},{"x":5.28,"y":-6.4,"g":1},{"x":1.55,"y":-6.8,"g":1},{"x":-2.66,"y":-6.6,"g":1},{"x":-5.93,"y":-6.4,"g":1},{"x":-6.3,"y":-4.4,"g":1},{"x":-6.58,"y":-2.0,"g":1},{"x":-6.21,"y":0.8,"g":1},{"x":-6.86,"y":3.6,"g":1},{"x":-6.67,"y":5.4,"g":1},{"x":-3.6,"y":3.1,"g":2},{"x":-3.1,"y":3.6,"g":2},{"x":-2.5,"y":3.2,"g":2},{"x":-1.6,"y":3.0,"g":2},{"x":-0.4,"y":3.3,"g":2},{"x":0.2,"y":3.0,"g":2},{"x":-0.3,"y":2.7,"g":2},{"x":-1.4,"y":2.6,"g":2},{"x":-2.6,"y":2.3,"g":2},{"x":-3.4,"y":2.5,"g":2},{"x":-2.5,"y":0.3,"g":3},{"x":-1.6,"y":0.6,"g":3},{"x":-0.9,"y":0.5,"g":3},{"x":-0.9,"y":-0.1,"g":3},{"x":-1.8,"y":-0.2,"g":3},{"x":-2.0,"y":-0.7,"g":3},{"x":-1.5,"y":-1.1,"g":3},{"x":-2.4,"y":-1.2,"g":3},{"x":-2.7,"y":-0.5,"g":3},{"x":2.2,"y":2.8,"g":4},{"x":2.7,"y":2.6,"g":4},{"x":2.8,"y":1.5,"g":4},{"x":2.9,"y":0.0,"g":4},{"x":3.1,"y":-1.5,"g":4},{"x":3.0,"y":-2.8,"g":4},{"x":2.5,"y":-3.2,"g":4},{"x":2.0,"y":-2.9,"g":4},{"x":2.1,"y":-1.5,"g":4},{"x":2.4,"y":-0.2,"g":4},{"x":2.3,"y":1.2,"g":4},{"x":1.9,"y":2.3,"g":4},{"x":-2.6,"y":-1.6,"g":5},{"x":-2.5,"y":-2.1,"g":5},{"x":-2.7,"y":-2.6,"g":5},{"x":-2.9,"y":-2.1,"g":5},{"x":0.2,"y":-3.0,"g":6},{"x":-0.3,"y":-2.7,"g":6},{"x":-0.9,"y":-2.9,"g":6},{"x":-0.6,"y":-3.3,"g":6}],
"k53":[{"x":-6.5,"y":6.3,"g":1},{"x":-3.5,"y":6.75,"g":1},{"x":-0.5,"y":6.5,"g":1},{"x":2.5,"y":6.7,"g":1},{"x":5.5,"y":6.6,"g":1},{"x":6.6,"y":5.8,"g":1},{"x":6.6,"y":3.0,"g":1},{"x":6.5,"y":0.0,"g":1},{"x":6.7,"y":-3.0,"g":1},{"x":6.4,"y":-5.8,"g":1},{"x":4.5,"y":-6.6,"g":1},{"x":1.0,"y":-6.4,"g":1},{"x":-2.5,"y":-6.7,"g":1},{"x":-5.8,"y":-6.5,"g":1},{"x":-6.5,"y":-5.5,"g":1},{"x":-6.3,"y":-3.0,"g":1},{"x":-6.6,"y":0.0,"g":1},{"x":-6.4,"y":3.0,"g":1},{"x":2.7,"y":2.0,"g":2},{"x":2.5,"y":2.5,"g":2},{"x":2.2,"y":2.6,"g":2},{"x":1.85,"y":2.2,"g":2},{"x":1.85,"y":1.6,"g":2},{"x":2.25,"y":1.4,"g":2},{"x":2.6,"y":1.6,"g":2},{"x":3.15,"y":-2.0,"g":3},{"x":2.9,"y":-1.3,"g":3},{"x":2.5,"y":-1.2,"g":3},{"x":2.1,"y":-1.7,"g":3},{"x":2.1,"y":-2.4,"g":3},{"x":2.5,"y":-2.8,"g":3},{"x":2.95,"y":-2.6,"g":3}],
"k54":[{"x":-6.6,"y":6.5},{"x":-5.5,"y":6.6},{"x":-4.4,"y":6.45},{"x":-3.3,"y":6.6},{"x":-2.2,"y":6.5},{"x":-1.1,"y":6.65},{"x":0,"y":6.5},{"x":1.1,"y":6.6},{"x":2.2,"y":6.45},{"x":3.3,"y":6.6},{"x":4.4,"y":6.5},{"x":5.5,"y":6.6},{"x":6.5,"y":6.4},{"x":6.6,"y":5.3},{"x":6.45,"y":4.2},{"x":6.6,"y":3.1},{"x":6.5,"y":2.0},{"x":6.6,"y":0.9},{"x":6.45,"y":-0.2},{"x":6.6,"y":-1.3},{"x":6.5,"y":-2.4},{"x":6.6,"y":-3.5},{"x":6.45,"y":-4.6},{"x":6.6,"y":-5.7},{"x":6.4,"y":-6.5},{"x":5.3,"y":-6.6},{"x":4.2,"y":-6.45},{"x":3.1,"y":-6.6},{"x":2.0,"y":-6.5},{"x":0.9,"y":-6.6},{"x":-0.2,"y":-6.45},{"x":-1.3,"y":-6.6},{"x":-2.4,"y":-6.5},{"x":-3.5,"y":-6.6},{"x":-4.6,"y":-6.4},{"x":-5.5,"y":-6.0},{"x":-6.2,"y":-6.5},{"x":-6.6,"y":-5.8},{"x":-6.0,"y":-5.0},{"x":-6.5,"y":-4.3},{"x":-6.4,"y":-3.2},{"x":-6.6,"y":-2.1},{"x":-6.45,"y":-1.0},{"x":-6.6,"y":0.1},{"x":-6.5,"y":1.2},{"x":-6.6,"y":2.3},{"x":-6.45,"y":3.4},{"x":-6.6,"y":4.5},{"x":-6.5,"y":5.6}]
},
"spacing":0,
"vconcat":[
{"spacing":7,"bounds":"flush","hconcat":[
{"width":130,"height":119,"title":"Robust covariance","layer":[
{"data":{"name":"k11"},"mark":{"type":"line","interpolate":"cardinal-closed","clip":true},"encoding":{"x":{"field":"x","type":"quantitative","scale":{"domain":[-7,7]}},"y":{"field":"y","type":"quantitative","scale":{"domain":[-7,7]}},"detail":{"field":"g","type":"nominal"},"order":{"value":null}}},
{"data":{"name":"p1"},"mark":{"type":"circle","clip":true},"encoding":{"x":{"field":"x","type":"quantitative","scale":{"domain":[-7,7]}},"y":{"field":"y","type":"quantitative","scale":{"domain":[-7,7]}},"color":{"condition":{"test":"indexof(datum.b||'','1')>=0","value":"#377eb8"},"value":"#ff7f00"}}},
{"data":{"values":[{"x":7,"y":-7,"s":".03s"}]},"mark":{"type":"text","align":"right","baseline":"bottom","dx":-2,"dy":-1},"encoding":{"x":{"field":"x","type":"quantitative","scale":{"domain":[-7,7]}},"y":{"field":"y","type":"quantitative","scale":{"domain":[-7,7]}},"text":{"field":"s"}}}]},
{"width":130,"height":119,"title":"One-Class SVM","layer":[
{"data":{"name":"k12"},"mark":{"type":"line","interpolate":"cardinal-closed","clip":true},"encoding":{"x":{"field":"x","type":"quantitative","scale":{"domain":[-7,7]}},"y":{"field":"y","type":"quantitative","scale":{"domain":[-7,7]}},"detail":{"field":"g","type":"nominal"},"order":{"value":null}}},
{"data":{"name":"p1"},"mark":{"type":"circle","clip":true},"encoding":{"x":{"field":"x","type":"quantitative","scale":{"domain":[-7,7]}},"y":{"field":"y","type":"quantitative","scale":{"domain":[-7,7]}},"color":{"condition":{"test":"indexof(datum.b||'','2')>=0","value":"#377eb8"},"value":"#ff7f00"}}},
{"data":{"values":[{"x":7,"y":-7,"s":".00s"}]},"mark":{"type":"text","align":"right","baseline":"bottom","dx":-2,"dy":-1},"encoding":{"x":{"field":"x","type":"quantitative","scale":{"domain":[-7,7]}},"y":{"field":"y","type":"quantitative","scale":{"domain":[-7,7]}},"text":{"field":"s"}}}]},
{"width":130,"height":119,"title":"One-Class SVM (SGD)","layer":[
{"data":{"name":"k13"},"mark":{"type":"line","interpolate":"cardinal-closed","clip":true},"encoding":{"x":{"field":"x","type":"quantitative","scale":{"domain":[-7,7]}},"y":{"field":"y","type":"quantitative","scale":{"domain":[-7,7]}},"detail":{"field":"g","type":"nominal"},"order":{"value":null}}},
{"data":{"name":"p1"},"mark":{"type":"circle","clip":true},"encoding":{"x":{"field":"x","type":"quantitative","scale":{"domain":[-7,7]}},"y":{"field":"y","type":"quantitative","scale":{"domain":[-7,7]}},"color":{"condition":{"test":"indexof(datum.b||'','3')>=0","value":"#377eb8"},"value":"#ff7f00"}}},
{"data":{"values":[{"x":7,"y":-7,"s":".01s"}]},"mark":{"type":"text","align":"right","baseline":"bottom","dx":-2,"dy":-1},"encoding":{"x":{"field":"x","type":"quantitative","scale":{"domain":[-7,7]}},"y":{"field":"y","type":"quantitative","scale":{"domain":[-7,7]}},"text":{"field":"s"}}}]},
{"width":130,"height":119,"title":"Isolation Forest","layer":[
{"data":{"name":"k14"},"mark":{"type":"line","interpolate":"linear-closed","clip":true},"encoding":{"x":{"field":"x","type":"quantitative","scale":{"domain":[-7,7]}},"y":{"field":"y","type":"quantitative","scale":{"domain":[-7,7]}},"detail":{"field":"g","type":"nominal"},"order":{"value":null}}},
{"data":{"name":"p1"},"mark":{"type":"circle","clip":true},"encoding":{"x":{"field":"x","type":"quantitative","scale":{"domain":[-7,7]}},"y":{"field":"y","type":"quantitative","scale":{"domain":[-7,7]}},"color":{"condition":{"test":"indexof(datum.b||'','4')>=0","value":"#377eb8"},"value":"#ff7f00"}}},
{"data":{"values":[{"x":7,"y":-7,"s":".13s"}]},"mark":{"type":"text","align":"right","baseline":"bottom","dx":-2,"dy":-1},"encoding":{"x":{"field":"x","type":"quantitative","scale":{"domain":[-7,7]}},"y":{"field":"y","type":"quantitative","scale":{"domain":[-7,7]}},"text":{"field":"s"}}}]},
{"width":130,"height":119,"title":"Local Outlier Factor","layer":[
{"data":{"name":"p1"},"mark":{"type":"circle","clip":true},"encoding":{"x":{"field":"x","type":"quantitative","scale":{"domain":[-7,7]}},"y":{"field":"y","type":"quantitative","scale":{"domain":[-7,7]}},"color":{"condition":{"test":"indexof(datum.b||'','5')>=0","value":"#377eb8"},"value":"#ff7f00"}}},
{"data":{"values":[{"x":7,"y":-7,"s":".00s"}]},"mark":{"type":"text","align":"right","baseline":"bottom","dx":-2,"dy":-1},"encoding":{"x":{"field":"x","type":"quantitative","scale":{"domain":[-7,7]}},"y":{"field":"y","type":"quantitative","scale":{"domain":[-7,7]}},"text":{"field":"s"}}}]}
]},
{"spacing":7,"bounds":"flush","hconcat":[
{"width":130,"height":119,"layer":[
{"data":{"name":"k21"},"mark":{"type":"line","interpolate":"cardinal-closed","clip":true},"encoding":{"x":{"field":"x","type":"quantitative","scale":{"domain":[-7,7]}},"y":{"field":"y","type":"quantitative","scale":{"domain":[-7,7]}},"detail":{"field":"g","type":"nominal"},"order":{"value":null}}},
{"data":{"name":"p2"},"mark":{"type":"circle","clip":true},"encoding":{"x":{"field":"x","type":"quantitative","scale":{"domain":[-7,7]}},"y":{"field":"y","type":"quantitative","scale":{"domain":[-7,7]}},"color":{"condition":{"test":"indexof(datum.b||'','1')>=0","value":"#377eb8"},"value":"#ff7f00"}}},
{"data":{"values":[{"x":7,"y":-7,"s":".03s"}]},"mark":{"type":"text","align":"right","baseline":"bottom","dx":-2,"dy":-1},"encoding":{"x":{"field":"x","type":"quantitative","scale":{"domain":[-7,7]}},"y":{"field":"y","type":"quantitative","scale":{"domain":[-7,7]}},"text":{"field":"s"}}}]},
{"width":130,"height":119,"layer":[
{"data":{"name":"k22"},"mark":{"type":"line","interpolate":"cardinal-closed","clip":true},"encoding":{"x":{"field":"x","type":"quantitative","scale":{"domain":[-7,7]}},"y":{"field":"y","type":"quantitative","scale":{"domain":[-7,7]}},"detail":{"field":"g","type":"nominal"},"order":{"value":null}}},
{"data":{"name":"p2"},"mark":{"type":"circle","clip":true},"encoding":{"x":{"field":"x","type":"quantitative","scale":{"domain":[-7,7]}},"y":{"field":"y","type":"quantitative","scale":{"domain":[-7,7]}},"color":{"condition":{"test":"indexof(datum.b||'','2')>=0","value":"#377eb8"},"value":"#ff7f00"}}},
{"data":{"values":[{"x":7,"y":-7,"s":".00s"}]},"mark":{"type":"text","align":"right","baseline":"bottom","dx":-2,"dy":-1},"encoding":{"x":{"field":"x","type":"quantitative","scale":{"domain":[-7,7]}},"y":{"field":"y","type":"quantitative","scale":{"domain":[-7,7]}},"text":{"field":"s"}}}]},
{"width":130,"height":119,"layer":[
{"data":{"name":"k23"},"mark":{"type":"line","interpolate":"cardinal-closed","clip":true},"encoding":{"x":{"field":"x","type":"quantitative","scale":{"domain":[-7,7]}},"y":{"field":"y","type":"quantitative","scale":{"domain":[-7,7]}},"detail":{"field":"g","type":"nominal"},"order":{"value":null}}},
{"data":{"name":"p2"},"mark":{"type":"circle","clip":true},"encoding":{"x":{"field":"x","type":"quantitative","scale":{"domain":[-7,7]}},"y":{"field":"y","type":"quantitative","scale":{"domain":[-7,7]}},"color":{"condition":{"test":"indexof(datum.b||'','3')>=0","value":"#377eb8"},"value":"#ff7f00"}}},
{"data":{"values":[{"x":7,"y":-7,"s":".00s"}]},"mark":{"type":"text","align":"right","baseline":"bottom","dx":-2,"dy":-1},"encoding":{"x":{"field":"x","type":"quantitative","scale":{"domain":[-7,7]}},"y":{"field":"y","type":"quantitative","scale":{"domain":[-7,7]}},"text":{"field":"s"}}}]},
{"width":130,"height":119,"layer":[
{"data":{"name":"k24"},"mark":{"type":"line","interpolate":"linear-closed","clip":true},"encoding":{"x":{"field":"x","type":"quantitative","scale":{"domain":[-7,7]}},"y":{"field":"y","type":"quantitative","scale":{"domain":[-7,7]}},"detail":{"field":"g","type":"nominal"},"order":{"value":null}}},
{"data":{"name":"p2"},"mark":{"type":"circle","clip":true},"encoding":{"x":{"field":"x","type":"quantitative","scale":{"domain":[-7,7]}},"y":{"field":"y","type":"quantitative","scale":{"domain":[-7,7]}},"color":{"condition":{"test":"indexof(datum.b||'','4')>=0","value":"#377eb8"},"value":"#ff7f00"}}},
{"data":{"values":[{"x":7,"y":-7,"s":".13s"}]},"mark":{"type":"text","align":"right","baseline":"bottom","dx":-2,"dy":-1},"encoding":{"x":{"field":"x","type":"quantitative","scale":{"domain":[-7,7]}},"y":{"field":"y","type":"quantitative","scale":{"domain":[-7,7]}},"text":{"field":"s"}}}]},
{"width":130,"height":119,"layer":[
{"data":{"name":"p2"},"mark":{"type":"circle","clip":true},"encoding":{"x":{"field":"x","type":"quantitative","scale":{"domain":[-7,7]}},"y":{"field":"y","type":"quantitative","scale":{"domain":[-7,7]}},"color":{"condition":{"test":"indexof(datum.b||'','5')>=0","value":"#377eb8"},"value":"#ff7f00"}}},
{"data":{"values":[{"x":7,"y":-7,"s":".00s"}]},"mark":{"type":"text","align":"right","baseline":"bottom","dx":-2,"dy":-1},"encoding":{"x":{"field":"x","type":"quantitative","scale":{"domain":[-7,7]}},"y":{"field":"y","type":"quantitative","scale":{"domain":[-7,7]}},"text":{"field":"s"}}}]}
]},
{"spacing":7,"bounds":"flush","hconcat":[
{"width":130,"height":119,"layer":[
{"data":{"name":"k31"},"mark":{"type":"line","interpolate":"cardinal-closed","clip":true},"encoding":{"x":{"field":"x","type":"quantitative","scale":{"domain":[-7,7]}},"y":{"field":"y","type":"quantitative","scale":{"domain":[-7,7]}},"detail":{"field":"g","type":"nominal"},"order":{"value":null}}},
{"data":{"name":"p3"},"mark":{"type":"circle","clip":true},"encoding":{"x":{"field":"x","type":"quantitative","scale":{"domain":[-7,7]}},"y":{"field":"y","type":"quantitative","scale":{"domain":[-7,7]}},"color":{"condition":{"test":"indexof(datum.b||'','1')>=0","value":"#377eb8"},"value":"#ff7f00"}}},
{"data":{"values":[{"x":7,"y":-7,"s":".03s"}]},"mark":{"type":"text","align":"right","baseline":"bottom","dx":-2,"dy":-1},"encoding":{"x":{"field":"x","type":"quantitative","scale":{"domain":[-7,7]}},"y":{"field":"y","type":"quantitative","scale":{"domain":[-7,7]}},"text":{"field":"s"}}}]},
{"width":130,"height":119,"layer":[
{"data":{"name":"k32"},"mark":{"type":"line","interpolate":"cardinal-closed","clip":true},"encoding":{"x":{"field":"x","type":"quantitative","scale":{"domain":[-7,7]}},"y":{"field":"y","type":"quantitative","scale":{"domain":[-7,7]}},"detail":{"field":"g","type":"nominal"},"order":{"value":null}}},
{"data":{"name":"p3"},"mark":{"type":"circle","clip":true},"encoding":{"x":{"field":"x","type":"quantitative","scale":{"domain":[-7,7]}},"y":{"field":"y","type":"quantitative","scale":{"domain":[-7,7]}},"color":{"condition":{"test":"indexof(datum.b||'','2')>=0","value":"#377eb8"},"value":"#ff7f00"}}},
{"data":{"values":[{"x":7,"y":-7,"s":".00s"}]},"mark":{"type":"text","align":"right","baseline":"bottom","dx":-2,"dy":-1},"encoding":{"x":{"field":"x","type":"quantitative","scale":{"domain":[-7,7]}},"y":{"field":"y","type":"quantitative","scale":{"domain":[-7,7]}},"text":{"field":"s"}}}]},
{"width":130,"height":119,"layer":[
{"data":{"name":"k33"},"mark":{"type":"line","interpolate":"cardinal-closed","clip":true},"encoding":{"x":{"field":"x","type":"quantitative","scale":{"domain":[-7,7]}},"y":{"field":"y","type":"quantitative","scale":{"domain":[-7,7]}},"detail":{"field":"g","type":"nominal"},"order":{"value":null}}},
{"data":{"name":"p3"},"mark":{"type":"circle","clip":true},"encoding":{"x":{"field":"x","type":"quantitative","scale":{"domain":[-7,7]}},"y":{"field":"y","type":"quantitative","scale":{"domain":[-7,7]}},"color":{"condition":{"test":"indexof(datum.b||'','3')>=0","value":"#377eb8"},"value":"#ff7f00"}}},
{"data":{"values":[{"x":7,"y":-7,"s":".01s"}]},"mark":{"type":"text","align":"right","baseline":"bottom","dx":-2,"dy":-1},"encoding":{"x":{"field":"x","type":"quantitative","scale":{"domain":[-7,7]}},"y":{"field":"y","type":"quantitative","scale":{"domain":[-7,7]}},"text":{"field":"s"}}}]},
{"width":130,"height":119,"layer":[
{"data":{"name":"k34"},"mark":{"type":"line","interpolate":"linear-closed","clip":true},"encoding":{"x":{"field":"x","type":"quantitative","scale":{"domain":[-7,7]}},"y":{"field":"y","type":"quantitative","scale":{"domain":[-7,7]}},"detail":{"field":"g","type":"nominal"},"order":{"value":null}}},
{"data":{"name":"p3"},"mark":{"type":"circle","clip":true},"encoding":{"x":{"field":"x","type":"quantitative","scale":{"domain":[-7,7]}},"y":{"field":"y","type":"quantitative","scale":{"domain":[-7,7]}},"color":{"condition":{"test":"indexof(datum.b||'','4')>=0","value":"#377eb8"},"value":"#ff7f00"}}},
{"data":{"values":[{"x":7,"y":-7,"s":".13s"}]},"mark":{"type":"text","align":"right","baseline":"bottom","dx":-2,"dy":-1},"encoding":{"x":{"field":"x","type":"quantitative","scale":{"domain":[-7,7]}},"y":{"field":"y","type":"quantitative","scale":{"domain":[-7,7]}},"text":{"field":"s"}}}]},
{"width":130,"height":119,"layer":[
{"data":{"name":"p3"},"mark":{"type":"circle","clip":true},"encoding":{"x":{"field":"x","type":"quantitative","scale":{"domain":[-7,7]}},"y":{"field":"y","type":"quantitative","scale":{"domain":[-7,7]}},"color":{"condition":{"test":"indexof(datum.b||'','5')>=0","value":"#377eb8"},"value":"#ff7f00"}}},
{"data":{"values":[{"x":7,"y":-7,"s":".00s"}]},"mark":{"type":"text","align":"right","baseline":"bottom","dx":-2,"dy":-1},"encoding":{"x":{"field":"x","type":"quantitative","scale":{"domain":[-7,7]}},"y":{"field":"y","type":"quantitative","scale":{"domain":[-7,7]}},"text":{"field":"s"}}}]}
]},
{"spacing":7,"bounds":"flush","hconcat":[
{"width":130,"height":119,"layer":[
{"data":{"name":"k41"},"mark":{"type":"line","interpolate":"cardinal-closed","clip":true},"encoding":{"x":{"field":"x","type":"quantitative","scale":{"domain":[-7,7]}},"y":{"field":"y","type":"quantitative","scale":{"domain":[-7,7]}},"detail":{"field":"g","type":"nominal"},"order":{"value":null}}},
{"data":{"name":"p4"},"mark":{"type":"circle","clip":true},"encoding":{"x":{"field":"x","type":"quantitative","scale":{"domain":[-7,7]}},"y":{"field":"y","type":"quantitative","scale":{"domain":[-7,7]}},"color":{"condition":{"test":"indexof(datum.b||'','1')>=0","value":"#377eb8"},"value":"#ff7f00"}}},
{"data":{"values":[{"x":7,"y":-7,"s":".03s"}]},"mark":{"type":"text","align":"right","baseline":"bottom","dx":-2,"dy":-1},"encoding":{"x":{"field":"x","type":"quantitative","scale":{"domain":[-7,7]}},"y":{"field":"y","type":"quantitative","scale":{"domain":[-7,7]}},"text":{"field":"s"}}}]},
{"width":130,"height":119,"layer":[
{"data":{"name":"k42"},"mark":{"type":"line","interpolate":"cardinal-closed","clip":true},"encoding":{"x":{"field":"x","type":"quantitative","scale":{"domain":[-7,7]}},"y":{"field":"y","type":"quantitative","scale":{"domain":[-7,7]}},"detail":{"field":"g","type":"nominal"},"order":{"value":null}}},
{"data":{"name":"p4"},"mark":{"type":"circle","clip":true},"encoding":{"x":{"field":"x","type":"quantitative","scale":{"domain":[-7,7]}},"y":{"field":"y","type":"quantitative","scale":{"domain":[-7,7]}},"color":{"condition":{"test":"indexof(datum.b||'','2')>=0","value":"#377eb8"},"value":"#ff7f00"}}},
{"data":{"values":[{"x":7,"y":-7,"s":".00s"}]},"mark":{"type":"text","align":"right","baseline":"bottom","dx":-2,"dy":-1},"encoding":{"x":{"field":"x","type":"quantitative","scale":{"domain":[-7,7]}},"y":{"field":"y","type":"quantitative","scale":{"domain":[-7,7]}},"text":{"field":"s"}}}]},
{"width":130,"height":119,"layer":[
{"data":{"name":"k43"},"mark":{"type":"line","interpolate":"cardinal-closed","clip":true},"encoding":{"x":{"field":"x","type":"quantitative","scale":{"domain":[-7,7]}},"y":{"field":"y","type":"quantitative","scale":{"domain":[-7,7]}},"detail":{"field":"g","type":"nominal"},"order":{"value":null}}},
{"data":{"name":"p4"},"mark":{"type":"circle","clip":true},"encoding":{"x":{"field":"x","type":"quantitative","scale":{"domain":[-7,7]}},"y":{"field":"y","type":"quantitative","scale":{"domain":[-7,7]}},"color":{"condition":{"test":"indexof(datum.b||'','3')>=0","value":"#377eb8"},"value":"#ff7f00"}}},
{"data":{"values":[{"x":7,"y":-7,"s":".01s"}]},"mark":{"type":"text","align":"right","baseline":"bottom","dx":-2,"dy":-1},"encoding":{"x":{"field":"x","type":"quantitative","scale":{"domain":[-7,7]}},"y":{"field":"y","type":"quantitative","scale":{"domain":[-7,7]}},"text":{"field":"s"}}}]},
{"width":130,"height":119,"layer":[
{"data":{"name":"k44"},"mark":{"type":"line","interpolate":"linear-closed","clip":true},"encoding":{"x":{"field":"x","type":"quantitative","scale":{"domain":[-7,7]}},"y":{"field":"y","type":"quantitative","scale":{"domain":[-7,7]}},"detail":{"field":"g","type":"nominal"},"order":{"value":null}}},
{"data":{"name":"p4"},"mark":{"type":"circle","clip":true},"encoding":{"x":{"field":"x","type":"quantitative","scale":{"domain":[-7,7]}},"y":{"field":"y","type":"quantitative","scale":{"domain":[-7,7]}},"color":{"condition":{"test":"indexof(datum.b||'','4')>=0","value":"#377eb8"},"value":"#ff7f00"}}},
{"data":{"values":[{"x":7,"y":-7,"s":".13s"}]},"mark":{"type":"text","align":"right","baseline":"bottom","dx":-2,"dy":-1},"encoding":{"x":{"field":"x","type":"quantitative","scale":{"domain":[-7,7]}},"y":{"field":"y","type":"quantitative","scale":{"domain":[-7,7]}},"text":{"field":"s"}}}]},
{"width":130,"height":119,"layer":[
{"data":{"name":"p4"},"mark":{"type":"circle","clip":true},"encoding":{"x":{"field":"x","type":"quantitative","scale":{"domain":[-7,7]}},"y":{"field":"y","type":"quantitative","scale":{"domain":[-7,7]}},"color":{"condition":{"test":"indexof(datum.b||'','5')>=0","value":"#377eb8"},"value":"#ff7f00"}}},
{"data":{"values":[{"x":7,"y":-7,"s":".00s"}]},"mark":{"type":"text","align":"right","baseline":"bottom","dx":-2,"dy":-1},"encoding":{"x":{"field":"x","type":"quantitative","scale":{"domain":[-7,7]}},"y":{"field":"y","type":"quantitative","scale":{"domain":[-7,7]}},"text":{"field":"s"}}}]}
]},
{"spacing":7,"bounds":"flush","hconcat":[
{"width":130,"height":119,"layer":[
{"data":{"name":"k51"},"mark":{"type":"line","interpolate":"cardinal-closed","clip":true},"encoding":{"x":{"field":"x","type":"quantitative","scale":{"domain":[-7,7]}},"y":{"field":"y","type":"quantitative","scale":{"domain":[-7,7]}},"detail":{"field":"g","type":"nominal"},"order":{"value":null}}},
{"data":{"name":"p5"},"mark":{"type":"circle","clip":true},"encoding":{"x":{"field":"x","type":"quantitative","scale":{"domain":[-7,7]}},"y":{"field":"y","type":"quantitative","scale":{"domain":[-7,7]}},"color":{"condition":{"test":"indexof(datum.b||'','1')>=0","value":"#377eb8"},"value":"#ff7f00"}}},
{"data":{"values":[{"x":7,"y":-7,"s":".04s"}]},"mark":{"type":"text","align":"right","baseline":"bottom","dx":-2,"dy":-1},"encoding":{"x":{"field":"x","type":"quantitative","scale":{"domain":[-7,7]}},"y":{"field":"y","type":"quantitative","scale":{"domain":[-7,7]}},"text":{"field":"s"}}}]},
{"width":130,"height":119,"layer":[
{"data":{"name":"k52"},"mark":{"type":"line","interpolate":"cardinal-closed","clip":true},"encoding":{"x":{"field":"x","type":"quantitative","scale":{"domain":[-7,7]}},"y":{"field":"y","type":"quantitative","scale":{"domain":[-7,7]}},"detail":{"field":"g","type":"nominal"},"order":{"value":null}}},
{"data":{"name":"p5"},"mark":{"type":"circle","clip":true},"encoding":{"x":{"field":"x","type":"quantitative","scale":{"domain":[-7,7]}},"y":{"field":"y","type":"quantitative","scale":{"domain":[-7,7]}},"color":{"condition":{"test":"indexof(datum.b||'','2')>=0","value":"#377eb8"},"value":"#ff7f00"}}},
{"data":{"values":[{"x":7,"y":-7,"s":".00s"}]},"mark":{"type":"text","align":"right","baseline":"bottom","dx":-2,"dy":-1},"encoding":{"x":{"field":"x","type":"quantitative","scale":{"domain":[-7,7]}},"y":{"field":"y","type":"quantitative","scale":{"domain":[-7,7]}},"text":{"field":"s"}}}]},
{"width":130,"height":119,"layer":[
{"data":{"name":"k53"},"mark":{"type":"line","interpolate":"cardinal-closed","clip":true},"encoding":{"x":{"field":"x","type":"quantitative","scale":{"domain":[-7,7]}},"y":{"field":"y","type":"quantitative","scale":{"domain":[-7,7]}},"detail":{"field":"g","type":"nominal"},"order":{"value":null}}},
{"data":{"name":"p5"},"mark":{"type":"circle","clip":true},"encoding":{"x":{"field":"x","type":"quantitative","scale":{"domain":[-7,7]}},"y":{"field":"y","type":"quantitative","scale":{"domain":[-7,7]}},"color":{"condition":{"test":"indexof(datum.b||'','3')>=0","value":"#377eb8"},"value":"#ff7f00"}}},
{"data":{"values":[{"x":7,"y":-7,"s":".01s"}]},"mark":{"type":"text","align":"right","baseline":"bottom","dx":-2,"dy":-1},"encoding":{"x":{"field":"x","type":"quantitative","scale":{"domain":[-7,7]}},"y":{"field":"y","type":"quantitative","scale":{"domain":[-7,7]}},"text":{"field":"s"}}}]},
{"width":130,"height":119,"layer":[
{"data":{"name":"k54"},"mark":{"type":"line","interpolate":"linear-closed","clip":true},"encoding":{"x":{"field":"x","type":"quantitative","scale":{"domain":[-7,7]}},"y":{"field":"y","type":"quantitative","scale":{"domain":[-7,7]}},"detail":{"field":"g","type":"nominal"},"order":{"value":null}}},
{"data":{"name":"p5"},"mark":{"type":"circle","clip":true},"encoding":{"x":{"field":"x","type":"quantitative","scale":{"domain":[-7,7]}},"y":{"field":"y","type":"quantitative","scale":{"domain":[-7,7]}},"color":{"condition":{"test":"indexof(datum.b||'','4')>=0","value":"#377eb8"},"value":"#ff7f00"}}},
{"data":{"values":[{"x":7,"y":-7,"s":".13s"}]},"mark":{"type":"text","align":"right","baseline":"bottom","dx":-2,"dy":-1},"encoding":{"x":{"field":"x","type":"quantitative","scale":{"domain":[-7,7]}},"y":{"field":"y","type":"quantitative","scale":{"domain":[-7,7]}},"text":{"field":"s"}}}]},
{"width":130,"height":119,"layer":[
{"data":{"name":"p5"},"mark":{"type":"circle","clip":true},"encoding":{"x":{"field":"x","type":"quantitative","scale":{"domain":[-7,7]}},"y":{"field":"y","type":"quantitative","scale":{"domain":[-7,7]}},"color":{"condition":{"test":"indexof(datum.b||'','5')>=0","value":"#377eb8"},"value":"#ff7f00"}}},
{"data":{"values":[{"x":7,"y":-7,"s":".00s"}]},"mark":{"type":"text","align":"right","baseline":"bottom","dx":-2,"dy":-1},"encoding":{"x":{"field":"x","type":"quantitative","scale":{"domain":[-7,7]}},"y":{"field":"y","type":"quantitative","scale":{"domain":[-7,7]}},"text":{"field":"s"}}}]}
]}
]
}
